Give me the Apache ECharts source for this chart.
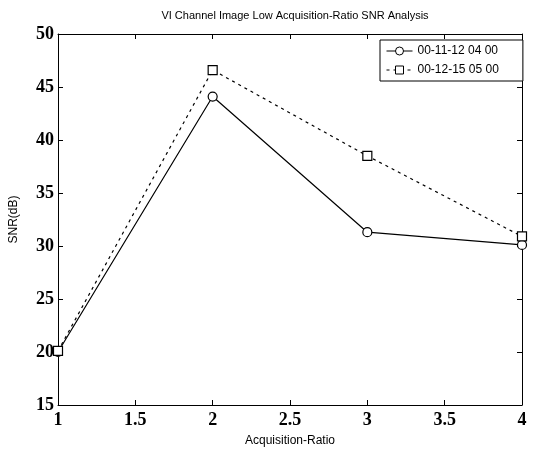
<!DOCTYPE html>
<html><head><meta charset="utf-8">
<script src="https://cdn.jsdelivr.net/npm/echarts@6/dist/echarts.min.js"></script>
<style>html,body{margin:0;padding:0;background:#fff}#c{width:537px;height:452px}</style>
</head><body><div id="c"></div>
<script>
var ratios = [1, 2, 3, 4];
var snrA = [20.0, 44.1, 31.3, 30.1];
var snrB = [20.1, 46.6, 38.5, 30.9];
var seriesNames = ['00-11-12 04 00', '00-12-15 05 00'];
var titleText = 'VI Channel Image Low Acquisition-Ratio SNR Analysis';
var xName = 'Acquisition-Ratio';
var yName = 'SNR(dB)';

function pairs(xs, ys){ return xs.map(function(x,i){ return [x, ys[i]]; }); }

var chart = echarts.init(document.getElementById('c'), null, {renderer:'canvas'});
var tickFont = {fontFamily:'Liberation Serif', fontSize:18, fontWeight:'bold', color:'#000'};
chart.setOption({
  animation:false,
  backgroundColor:'#fff',
  title:{text:titleText, left:290, textAlign:'center', top:5,
    textStyle:{fontFamily:'Liberation Sans', fontSize:11, fontWeight:'normal', color:'#000'}},
  grid:{left:58, right:15, top:34, bottom:46},
  legend:{
    orient:'vertical', left:380, top:40, width:142,
    data:seriesNames,
    itemWidth:26, itemHeight:10, itemGap:7,
    padding:[5,24,5,6],
    borderColor:'#000', borderWidth:1, backgroundColor:'#fff',
    lineStyle:{width:1},
    itemStyle:{borderWidth:1},
    textStyle:{fontFamily:'Liberation Sans', fontSize:12, color:'#000'}
  },
  xAxis:[{
    type:'value', min:1, max:4, interval:0.5,
    name:xName, nameLocation:'middle', nameGap:30,
    nameTextStyle:{fontFamily:'Liberation Sans', fontSize:12, color:'#000'},
    axisLine:{lineStyle:{color:'#000', width:1}},
    axisTick:{inside:true, length:5, lineStyle:{color:'#000'}},
    axisLabel:Object.assign({margin:6}, tickFont),
    splitLine:{show:false}
  },{
    type:'value', position:'top', min:1, max:4, interval:0.5,
    axisLine:{show:true, lineStyle:{color:'#000'}},
    axisTick:{inside:true, length:5, lineStyle:{color:'#000'}},
    axisLabel:{show:false}, splitLine:{show:false}
  }],
  yAxis:[{
    type:'value', min:15, max:50, interval:5,
    name:yName, nameLocation:'middle', nameGap:38, nameRotate:90,
    nameTextStyle:{fontFamily:'Liberation Sans', fontSize:12, color:'#000'},
    axisLine:{show:true, lineStyle:{color:'#000', width:1}},
    axisTick:{show:true, inside:true, length:5, lineStyle:{color:'#000'}},
    axisLabel:Object.assign({margin:4}, tickFont),
    splitLine:{show:false}
  },{
    type:'value', position:'right', min:15, max:50, interval:5,
    axisLine:{show:true, lineStyle:{color:'#000'}},
    axisTick:{show:true, inside:true, length:5, lineStyle:{color:'#000'}},
    axisLabel:{show:false}, splitLine:{show:false}
  }],
  series:[{
    name:seriesNames[0], type:'line', data:pairs(ratios, snrA),
    symbol:'circle', symbolSize:9, showAllSymbol:true,
    itemStyle:{color:'#fff', borderColor:'#000', borderWidth:1.2},
    lineStyle:{color:'#000', width:1.2, type:'solid'}
  },{
    name:seriesNames[1], type:'line', data:pairs(ratios, snrB),
    symbol:'rect', symbolSize:9, showAllSymbol:true,
    itemStyle:{color:'#fff', borderColor:'#000', borderWidth:1.2},
    lineStyle:{color:'#000', width:1.2, type:[3,4]}
  }]
});
</script></body></html>
